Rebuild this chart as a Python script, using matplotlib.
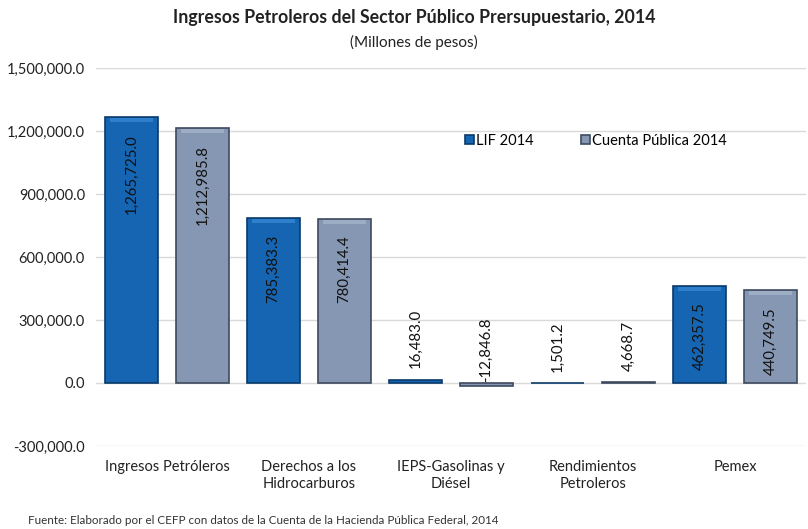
import matplotlib
matplotlib.use("Agg")
import matplotlib.pyplot as plt
import numpy as np
from matplotlib.ticker import FuncFormatter, MultipleLocator

categories = ["Ingresos Petróleros", "Derechos a los\nHidrocarburos", "IEPS-Gasolinas y\nDiésel",
              "Rendimientos\nPetroleros", "Pemex"]
lif_2014 = [1265725.0, 785383.3, 16483.0, 1501.2, 462357.5]
cuenta_publica_2014 = [1212985.8, 780414.4, -12846.8, 4668.7, 440749.5]
series_names = ["LIF 2014", "Cuenta Pública 2014"]

title = "Ingresos Petroleros del Sector Público Prersupuestario, 2014"
subtitle = "(Millones de pesos)"
source = "Fuente: Elaborado por el CEFP con datos de la Cuenta de la Hacienda Pública Federal, 2014"

plt.rcParams['font.family'] = ['Lato', 'DejaVu Sans']

fig = plt.figure(figsize=(8.08, 5.29), dpi=100)
ax = fig.add_axes([96/808, 1 - 446/529, 710/808, (446-68)/529])

x = np.arange(len(categories))
w = 0.375
off = 0.25
colors = ["#1565b3", "#8597b2"]
edges = ["#0b3a6a", "#3d4a5e"]
highlights = ["#2f80cc", "#9dadc4"]

for i, (vals, c, e, h) in enumerate(zip([lif_2014, cuenta_publica_2014], colors, edges, highlights)):
    xs = x + (off if i else -off)
    ax.bar(xs, vals, width=w, color=c, edgecolor=e, linewidth=1.2, zorder=3, label=series_names[i])
    # subtle bevel highlight near top of each bar
    for xi, v in zip(xs, vals):
        if abs(v) > 100000:
            ax.bar(xi, -18000, bottom=v - 4000, width=w * 0.8, color=h, linewidth=0, zorder=4)
    for xi, v in zip(xs, vals):
        txt = f"{v:,.1f}"
        if abs(v) > 100000:
            ax.annotate(txt, (xi, v), xytext=(0, -12), textcoords="offset points",
                        rotation=90, ha="center", va="top", fontsize=10.8, color="#111111", zorder=5)
        else:
            ax.annotate(txt, (xi, max(v, 0)), xytext=(0, 8 if v > 0 else 1), textcoords="offset points",
                        rotation=90, ha="center", va="bottom", fontsize=10.8, color="#111111", zorder=5)

ax.set_ylim(-300000, 1500000)
ax.set_xlim(-0.5, len(categories) - 0.5)
ax.yaxis.set_major_locator(MultipleLocator(300000))
ax.yaxis.set_major_formatter(FuncFormatter(lambda v, p: f"{v:,.1f}"))
ax.grid(axis="y", color="#d9d9d9", linewidth=1, zorder=0)
ax.set_axisbelow(True)
for s in ax.spines.values():
    s.set_visible(False)
ax.tick_params(axis="both", length=0, colors="#222222")
ax.tick_params(axis="y", pad=8, labelsize=10.5)
ax.tick_params(axis="x", pad=10)
ax.set_xticks(x)
ax.set_xticklabels(categories, fontsize=10.5, linespacing=1.3)

leg = ax.legend(loc="upper left", bbox_to_anchor=(363/710, 1 - (128-68)/378), ncol=2, frameon=False,
                fontsize=10.5, handlelength=0.6, handleheight=0.6, handletextpad=0.2,
                columnspacing=3.2, borderaxespad=0)

fig.text(414/808, 1 - 18/529, title, ha="center", va="center", fontsize=12.8, fontweight="bold", color="#222222")
fig.text(414/808, 1 - 42/529, subtitle, ha="center", va="center", fontsize=11, color="#222222")
fig.text(28/808, 1 - 521/529, source, ha="left", va="center", fontsize=8.4, color="#333333")

fig.savefig("out.png", dpi=100)
